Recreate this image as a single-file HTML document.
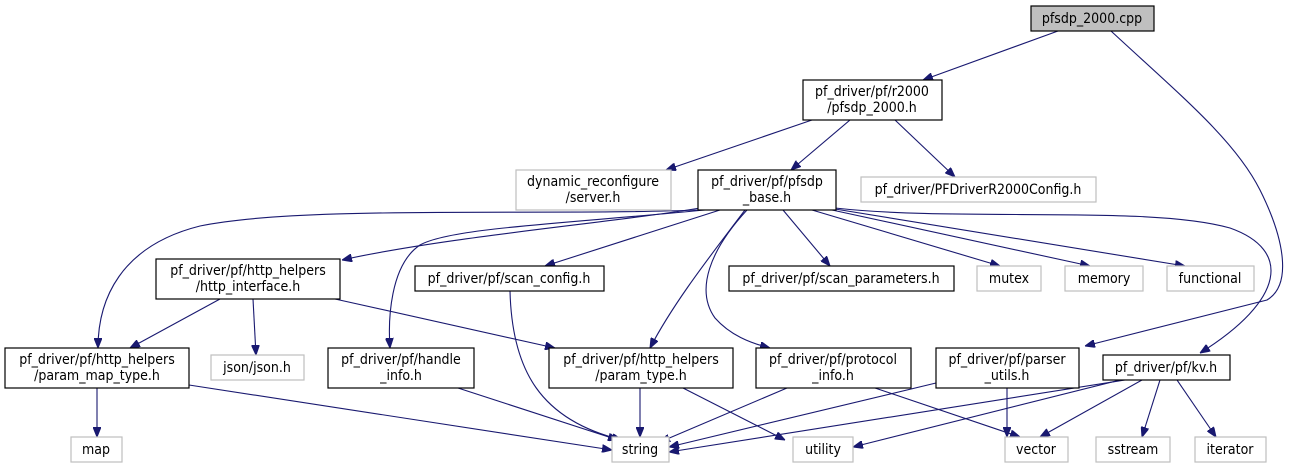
<!DOCTYPE html>
<html><head><meta charset="utf-8"><style>
html,body{margin:0;padding:0;background:#fff;}
svg{display:block;}
text{font-family:"DejaVu Sans Condensed","DejaVu Sans","Liberation Sans",sans-serif;font-stretch:condensed;font-size:14px;fill:#000;}
.b{fill:#fff;stroke:#000;stroke-width:1.2;}
.g{fill:#fff;stroke:#bfbfbf;stroke-width:1.2;}
.e{fill:none;stroke:#191970;stroke-width:1.1;marker-end:url(#a);}
</style></head><body>
<svg width="1291" height="469" viewBox="0 0 1291 469" xmlns="http://www.w3.org/2000/svg">
<defs><marker id="a" viewBox="0 0 10 8" refX="10" refY="4" markerWidth="10" markerHeight="8" markerUnits="userSpaceOnUse" orient="auto"><path d="M0,0 L10,4 L0,8 Z" fill="#191970" stroke="#191970"/></marker></defs>

<!-- edges -->
<path class="e" d="M1058,31 L923,80"/>
<path class="e" d="M1111,31 C1180,95 1235,140 1260,190 C1285,240 1292,285 1267,300 L1085,346"/>
<path class="e" d="M812,120 L666,170"/>
<path class="e" d="M850,120 L791,170"/>
<path class="e" d="M895,120 L955,177"/>
<path class="e" d="M700,208 C620,222 450,236 342,260"/>
<path class="e" d="M698,210 C550,216 300,205 200,226 C120,246 98,300 98,348"/>
<path class="e" d="M705,210 C560,224 450,228 420,245 C390,265 388,320 390,348"/>
<path class="e" d="M720,210 L545,266"/>
<path class="e" d="M745,210 C715,250 675,300 650,348"/>
<path class="e" d="M747,210 C710,250 695,290 715,318 C730,335 750,343 770,348"/>
<path class="e" d="M783,210 L830,266"/>
<path class="e" d="M812,210 L1000,266"/>
<path class="e" d="M832,210 L1090,266"/>
<path class="e" d="M835,209 L1185,266"/>
<path class="e" d="M835,208 C960,222 1150,205 1230,228 C1292,250 1285,300 1200,353"/>
<path class="e" d="M220,299 L130,348"/>
<path class="e" d="M253,299 L256,355"/>
<path class="e" d="M335,299 L555,348"/>
<path class="e" d="M97,388 L97,437"/>
<path class="e" d="M510,291 C512,370 540,420 622,440"/>
<path class="e" d="M189,385 L612,450"/>
<path class="e" d="M458,388 L618,440"/>
<path class="e" d="M640,388 L640,437"/>
<path class="e" d="M683,388 L785,440"/>
<path class="e" d="M787,388 L660,442"/>
<path class="e" d="M875,388 L1020,437"/>
<path class="e" d="M936,383 L669,447"/>
<path class="e" d="M1007,388 L1007,437"/>
<path class="e" d="M1125,380 L669,452"/>
<path class="e" d="M1120,380 L853,447"/>
<path class="e" d="M1142,380 L1040,437"/>
<path class="e" d="M1160,380 L1142,437"/>
<path class="e" d="M1177,380 L1216,437"/>

<!-- nodes -->
<rect x="1031" y="6" width="123" height="25" fill="#bfbfbf" stroke="#000" stroke-width="1.2"/>
<text x="1092" y="23" text-anchor="middle">pfsdp_2000.cpp</text>

<rect class="b" x="803" y="80" width="139" height="40"/>
<text x="872" y="96" text-anchor="middle">pf_driver/pf/r2000</text>
<text x="872" y="112" text-anchor="middle">/pfsdp_2000.h</text>

<rect class="g" x="516" y="170" width="155" height="40"/>
<text x="593" y="186" text-anchor="middle">dynamic_reconfigure</text>
<text x="593" y="202" text-anchor="middle">/server.h</text>

<rect class="b" x="698" y="170" width="138" height="40"/>
<text x="767" y="186" text-anchor="middle">pf_driver/pf/pfsdp</text>
<text x="767" y="202" text-anchor="middle">_base.h</text>

<rect class="g" x="861" y="177" width="235" height="25"/>
<text x="978" y="194" text-anchor="middle">pf_driver/PFDriverR2000Config.h</text>

<rect class="b" x="156" y="259" width="184" height="40"/>
<text x="248" y="275" text-anchor="middle">pf_driver/pf/http_helpers</text>
<text x="248" y="291" text-anchor="middle">/http_interface.h</text>

<rect class="b" x="415" y="266" width="189" height="25"/>
<text x="509" y="283" text-anchor="middle">pf_driver/pf/scan_config.h</text>

<rect class="b" x="729" y="266" width="225" height="25"/>
<text x="841" y="283" text-anchor="middle">pf_driver/pf/scan_parameters.h</text>

<rect class="g" x="977" y="266" width="64" height="25"/>
<text x="1009" y="283" text-anchor="middle">mutex</text>
<rect class="g" x="1065" y="266" width="78" height="25"/>
<text x="1104" y="283" text-anchor="middle">memory</text>
<rect class="g" x="1167" y="266" width="87" height="25"/>
<text x="1210" y="283" text-anchor="middle">functional</text>

<rect class="b" x="5" y="348" width="184" height="40"/>
<text x="97" y="364" text-anchor="middle">pf_driver/pf/http_helpers</text>
<text x="97" y="380" text-anchor="middle">/param_map_type.h</text>

<rect class="g" x="211" y="355" width="93" height="25"/>
<text x="257" y="372" text-anchor="middle">json/json.h</text>

<rect class="b" x="328" y="348" width="146" height="40"/>
<text x="401" y="364" text-anchor="middle">pf_driver/pf/handle</text>
<text x="401" y="380" text-anchor="middle">_info.h</text>

<rect class="b" x="549" y="348" width="184" height="40"/>
<text x="641" y="364" text-anchor="middle">pf_driver/pf/http_helpers</text>
<text x="641" y="380" text-anchor="middle">/param_type.h</text>

<rect class="b" x="756" y="348" width="155" height="40"/>
<text x="833" y="364" text-anchor="middle">pf_driver/pf/protocol</text>
<text x="833" y="380" text-anchor="middle">_info.h</text>

<rect class="b" x="936" y="348" width="143" height="40"/>
<text x="1007" y="364" text-anchor="middle">pf_driver/pf/parser</text>
<text x="1007" y="380" text-anchor="middle">_utils.h</text>

<rect class="b" x="1103" y="355" width="127" height="25"/>
<text x="1166" y="372" text-anchor="middle">pf_driver/pf/kv.h</text>

<rect class="g" x="71" y="437" width="51" height="25"/>
<text x="96" y="454" text-anchor="middle">map</text>
<rect class="g" x="612" y="437" width="57" height="25"/>
<text x="640" y="454" text-anchor="middle">string</text>
<rect class="g" x="793" y="437" width="60" height="25"/>
<text x="823" y="454" text-anchor="middle">utility</text>
<rect class="g" x="1005" y="437" width="63" height="25"/>
<text x="1036" y="454" text-anchor="middle">vector</text>
<rect class="g" x="1096" y="437" width="74" height="25"/>
<text x="1133" y="454" text-anchor="middle">sstream</text>
<rect class="g" x="1195" y="437" width="71" height="25"/>
<text x="1230" y="454" text-anchor="middle">iterator</text>
</svg>
</body></html>
